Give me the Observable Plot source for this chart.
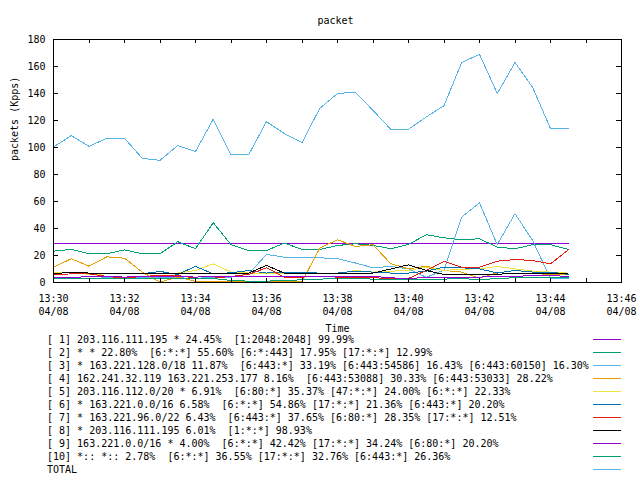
<!DOCTYPE html>
<html><head><meta charset="utf-8">
<script src="https://cdn.jsdelivr.net/npm/d3@7"></script>
<script src="https://cdn.jsdelivr.net/npm/@observablehq/plot@0.6"></script>
<style>
html,body{margin:0;padding:0;background:#fff;}
#wrap{width:640px;height:480px;position:relative;overflow:hidden;font-family:"DejaVu Sans Mono",monospace;font-size:10px;color:#000;}
#wrap svg{display:block;}
#legend{position:absolute;left:0;top:333px;width:640px;}
.row{position:relative;height:13px;line-height:13px;white-space:pre;}
.row span{position:absolute;left:47px;top:0;}
.row i{position:absolute;left:593px;width:28px;top:6px;height:0;border-top:1px solid;}
</style></head><body><div id="wrap"></div>
<script>
// sample times (every 30 s)
const times = ["13:30:00","13:30:30","13:31:00","13:31:30","13:32:00","13:32:30","13:33:00","13:33:30","13:34:00","13:34:30",
  "13:35:00","13:35:30","13:36:00","13:36:30","13:37:00","13:37:30","13:38:00","13:38:30","13:39:00","13:39:30",
  "13:40:00","13:40:30","13:41:00","13:41:30","13:42:00","13:42:30","13:43:00","13:43:30","13:44:00","13:44:30"];
const xMinorTicks = ["13:30","13:31","13:32","13:33","13:34","13:35","13:36","13:37","13:38","13:39","13:40","13:41","13:42","13:43","13:44","13:45","13:46"];
const xMajorTicks = ["13:30","13:32","13:34","13:36","13:38","13:40","13:42","13:44","13:46"];
const yTicks = [0,20,40,60,80,100,120,140,160,180];

const s1 = [28.7,28.7,28.7,28.7,28.7,28.7,28.7,28.7,28.7,28.7,28.7,28.7,28.7,28.7,28.7,28.7,28.7,28.7,28.7,28.7,28.7,28.7,28.7,28.7,28.7,28.7,28.7,28.7,28.7,28.7];
const s2 = [23.2,24.5,21.3,21.3,24.2,21.3,21.3,30.2,25,44.3,28,23.7,23.7,29.2,24.5,24.5,27.4,28.7,27.5,25,28.2,35.4,33.1,31.7,32.4,26.2,25,28,28,24.5];
const s3 = [3,3.5,3,3.5,3,3.5,4,3.5,3,4,4,6.4,20.8,18.8,18.3,18.3,17.6,14.5,10.9,11.9,10.1,3.8,9.2,48.5,59,28,51,31,2.7,2.7];
const s4 = [11.4,17.6,12.1,19,18,7.7,0.3,4,0.8,0.7,0.5,0.5,0.5,0.5,0.5,25.5,31.7,26.7,28,13.9,10.1,12.1,8.9,7.7,3.2,7.2,6.6,6.6,6,6];
const s5 = [7,7.7,6,6.4,7,6.4,6.4,7,8.9,13.8,7.7,7,6.4,7,6.4,6.4,6.4,8.9,7.7,8.4,8.9,11.4,8.9,9.9,10.1,11.9,10.1,8.4,7.7,7];
const s6 = [5.7,6.4,6.4,6.4,6.4,6.4,8.2,6,11.9,6.4,7.2,8.9,7,7.7,7.2,7,7,8.4,7.7,7,7,8.4,11.4,10.9,10.1,7,8.9,7.7,7.7,6];
const s7 = [5.7,6.4,6.4,4.5,3.2,4.5,5.2,5.2,3.2,3.2,4.5,6,10.9,4,4,4.5,4,3.5,3.5,3,3,8.9,15.6,11.4,11.4,15.8,17,16.3,13.8,24.2];
const s8 = [6.4,7.7,7,7,7,7,7,7,7,7,7,7,12.6,7,7,7,7,7,7,10,13.1,8.9,5.9,6,6,6,7,7,7,7];
const s9 = [4,3.5,4.5,4.5,4,4.5,4.5,4.5,4,4.5,4.5,4.5,4.5,4.5,4.5,4.5,4.5,4.5,4.5,3.5,2.7,4,4,4,4,4.5,4.5,5.2,5.2,4.5];
const s10 = [3,3,3,2.7,2.7,3,3,2.7,3,3,1.5,1,1,1.5,2,2.5,3,3,2.5,2,2,2,2.5,3,2,3,3.5,4,4,3.5];
const total = [100.4,108.8,100.9,106.8,106.8,92,90.5,101.4,97,121,94.7,94.7,119.2,110.3,103.6,129,140,141,127.5,113.5,113.5,122.6,131,163,169,140,163,144.4,114,114];

const legendLabels = [
  "[ 1] 203.116.111.195 * 24.45%  [1:2048:2048] 99.99%",
  "[ 2] * * 22.80%  [6:*:*] 55.60% [6:*:443] 17.95% [17:*:*] 12.99%",
  "[ 3] * 163.221.128.0/18 11.87%  [6:443:*] 33.19% [6:443:54586] 16.43% [6:443:60150] 16.30%",
  "[ 4] 162.241.32.119 163.221.253.177 8.16%  [6:443:53088] 30.33% [6:443:53033] 28.22%",
  "[ 5] 203.116.112.0/20 * 6.91%  [6:80:*] 35.37% [47:*:*] 24.00% [6:*:*] 22.33%",
  "[ 6] * 163.221.0.0/16 6.58%  [6:*:*] 54.86% [17:*:*] 21.36% [6:443:*] 20.20%",
  "[ 7] * 163.221.96.0/22 6.43%  [6:443:*] 37.65% [6:80:*] 28.35% [17:*:*] 12.51%",
  "[ 8] * 203.116.111.195 6.01%  [1:*:*] 98.93%",
  "[ 9] 163.221.0.0/16 * 4.00%  [6:*:*] 42.42% [17:*:*] 34.24% [6:80:*] 20.20%",
  "[10] *:: *:: 2.78%  [6:*:*] 36.55% [17:*:*] 32.76% [6:443:*] 26.36%",
  "TOTAL"
];
const colors = ["#9400d3","#009e73","#56b4e9","#e69f00","#f0e442","#0072b2","#e51e10","#000000","#9400d3","#009e73","#56b4e9"];
const seriesValues = [s1,s2,s3,s4,s5,s6,s7,s8,s9,s10,total];

const W = 640, H = 332, ML = 53, MR = 19, MT = 39, MB = 50;
const pw = W - ML - MR, ph = H - MT - MB;
const parseT = d3.timeParse("%Y-%m-%d %H:%M:%S");
const T = times.map(s => parseT("2000-04-08 " + s));
const parseM = s => parseT("2000-04-08 " + s + ":00");
const minor = xMinorTicks.map(parseM);
const major = xMajorTicks.map(parseM);
const fmt = d3.timeFormat("%H:%M\n%m/%d");

const lineMarks = seriesValues.map((vals, k) =>
  Plot.line(vals.map((v, i) => ({t: T[i], v})), {x: "t", y: "v", stroke: colors[k], strokeWidth: 1, shapeRendering: "crispEdges"}));

const chart = Plot.plot({
  width: W, height: H,
  marginLeft: ML, marginRight: MR, marginTop: MT, marginBottom: MB,
  style: {fontFamily: '"DejaVu Sans Mono", monospace', fontSize: "10px", background: "white", color: "black", overflow: "visible"},
  x: {type: "time", domain: [minor[0], minor[minor.length - 1]]},
  y: {domain: [0, 180]},
  marks: [
    Plot.axisY({ticks: yTicks, tickSize: 0, tickPadding: 8, label: null}),
    Plot.axisX({ticks: major, tickSize: 0, tickPadding: 10, tickFormat: fmt, lineHeight: 1.3, label: null}),
    ...lineMarks,
    Plot.frame({stroke: "black", shapeRendering: "crispEdges"}),
    Plot.tickY(yTicks, {y: d => d, stroke: "black", insetRight: pw - 5, shapeRendering: "crispEdges"}),
    Plot.tickY(yTicks, {y: d => d, stroke: "black", insetLeft: pw - 5, shapeRendering: "crispEdges"}),
    Plot.tickX(minor, {x: d => d, stroke: "black", insetTop: ph - 4, shapeRendering: "crispEdges"}),
    Plot.tickX(minor, {x: d => d, stroke: "black", insetBottom: ph - 4, shapeRendering: "crispEdges"}),
    Plot.text(["packet"], {text: d => d, frameAnchor: "top", lineAnchor: "middle", dy: -19, dx: -2}),
    Plot.text(["packets (Kpps)"], {text: d => d, frameAnchor: "left", lineAnchor: "middle", dx: -39, rotate: -90}),
    Plot.text(["Time"], {text: d => d, frameAnchor: "bottom", lineAnchor: "middle", dy: 46})
  ]
});
const wrap = document.getElementById("wrap");
wrap.appendChild(chart);
const legend = document.createElement("div");
legend.id = "legend";
legendLabels.forEach((lab, k) => {
  const row = document.createElement("div");
  row.className = "row";
  const sp = document.createElement("span");
  sp.textContent = lab;
  const ln = document.createElement("i");
  ln.style.borderTopColor = colors[k];
  row.appendChild(sp); row.appendChild(ln);
  legend.appendChild(row);
});
wrap.appendChild(legend);
</script></body></html>
